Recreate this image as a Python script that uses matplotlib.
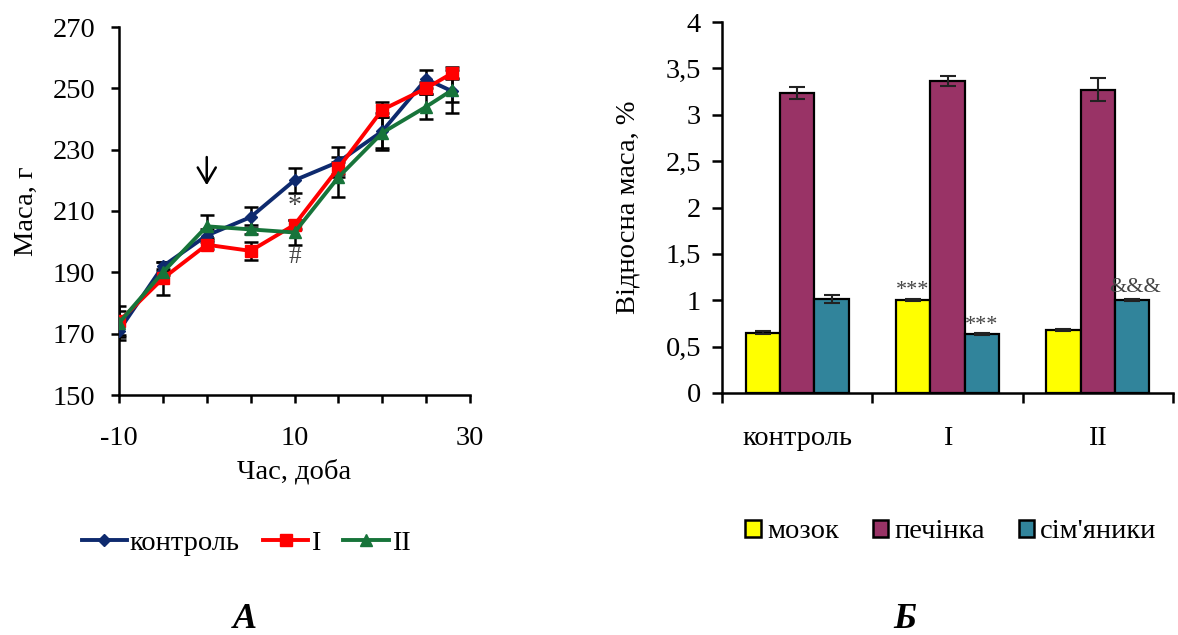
import matplotlib
matplotlib.use("Agg")
import matplotlib.pyplot as plt
import numpy as np
from matplotlib.lines import Line2D
from matplotlib.patches import Patch

plt.rcParams['font.family'] = ['Liberation Serif', 'DejaVu Serif']

# ---- Panel A data ----
days = [-10, -5, 0, 5, 10, 15, 20, 25, 28]
control = [171, 192, 202, 208, 220, 226, 236, 253, 249]
control_err = [3, 1.5, 2, 3.4, 4, 5, 6, 3, 7]
group1 = [174, 188, 199, 197, 205.5, 224, 243, 250, 255]
group1_err = [5, 5.4, 1.5, 3, 1.5, 2, 2.5, 2, 2]
group2 = [173.5, 190, 205, 204, 203, 221, 235.5, 244, 249.5]
group2_err = [4, 1, 3.7, 1.5, 4, 6.5, 5, 4, 4]
series_names_a = ['контроль', 'I', 'II']

# ---- Panel B data ----
categories_b = ['контроль', 'I', 'II']
organs = ['мозок', 'печінка', "сім'яники"]
brain = [0.65, 1.00, 0.68]
brain_err = [0.015, 0.01, 0.008]
liver = [3.23, 3.36, 3.27]
liver_err = [0.065, 0.055, 0.125]
testes = [1.01, 0.635, 1.00]
testes_err = [0.045, 0.01, 0.01]

fig = plt.figure(figsize=(11.78, 6.35), dpi=100)
FS = 20.5

# ================= Panel A =================
axA = fig.add_axes([119/1178, 1-395/635, (470-119)/1178, (395-27)/635])
colors_a = ['#0E2A6E', '#FF0000', '#17743A']
markers_a = ['D', 's', '^']
msizes = [6, 9, 9]
for vals, errs, c, m, ms, lab in zip([control, group1, group2],
                                      [control_err, group1_err, group2_err],
                                      colors_a, markers_a, msizes, series_names_a):
    axA.errorbar(days, vals, yerr=errs, color=c, marker=m, markersize=ms,
                 linewidth=2.8, ecolor='black', elinewidth=1.8, capsize=5,
                 capthick=1.8, label=lab, zorder=3)
axA.set_xlim(-10, 30)
axA.set_ylim(150, 270)
axA.set_xticks(np.arange(-10, 31, 5))
axA.set_xticklabels(['-10', '', '', '', '10', '', '', '', '30'])
axA.set_yticks(np.arange(150, 271, 20))
for s in ['top', 'right']:
    axA.spines[s].set_visible(False)
for s in ['left', 'bottom']:
    axA.spines[s].set_linewidth(1.8)
axA.tick_params(axis='both', direction='out', length=6, width=1.8, labelsize=FS)
axA.tick_params(axis='x', pad=16)
axA.tick_params(axis='y', pad=11)
axA.set_xlabel('Час, доба', fontsize=FS, labelpad=6)
axA.set_ylabel('Маса, г', fontsize=FS, labelpad=10)
axA.annotate('', xy=(0, 217.5), xytext=(0, 228.5),
             arrowprops=dict(arrowstyle='->,head_length=1.1,head_width=0.65', lw=1.8, color='black'))
axA.text(10, 211.5, '*', ha='center', va='center', fontsize=20, color='#444444')
axA.text(10, 195, '#', ha='center', va='center', fontsize=18, color='#444444')

handles_a = [Line2D([0], [0], color=c, marker=m, markersize=ms, linewidth=2.8)
             for c, m, ms in zip(colors_a, markers_a, msizes)]
fig.legend(handles_a, series_names_a, loc='center', bbox_to_anchor=(246/1178, 1-543/635),
           ncol=3, frameon=False, fontsize=FS, handlelength=1.6, handletextpad=0.1,
           columnspacing=0.8)

# ================= Panel B =================
axB = fig.add_axes([722/1178, 1-393/635, (1173-722)/1178, (393-22)/635])
colors_b = ['#FFFF00', '#993366', '#31849B']
x = np.arange(len(categories_b))
bw = 0.229
for i, (vals, errs, c, lab) in enumerate(zip([brain, liver, testes],
                                             [brain_err, liver_err, testes_err],
                                             colors_b, organs)):
    axB.bar(x + (i - 1) * bw, vals, width=bw, color=c, edgecolor='black', linewidth=1.6,
            yerr=errs, capsize=6, error_kw=dict(ecolor='#222222', elinewidth=1.5, capthick=1.5),
            label=lab, zorder=3)
axB.set_xlim(-0.5, 2.5)
axB.set_ylim(0, 4)
axB.set_yticks(np.arange(0, 4.01, 0.5))
axB.set_yticklabels(['0', '0,5', '1', '1,5', '2', '2,5', '3', '3,5', '4'])
axB.set_xticks(x)
axB.set_xticklabels(categories_b)
axB.set_xticks([-0.5, 0.5, 1.5, 2.5], minor=True)
axB.tick_params(axis='x', which='major', length=0, labelsize=FS, pad=24)
axB.tick_params(axis='x', which='minor', direction='out', length=7, width=1.8)
axB.tick_params(axis='y', direction='out', length=7, width=1.8, labelsize=FS, pad=8)
for s in ['top', 'right']:
    axB.spines[s].set_visible(False)
for s in ['left', 'bottom']:
    axB.spines[s].set_linewidth(1.8)
axB.set_ylabel('Відносна маса, %', fontsize=FS, labelpad=18)
axB.text(1 - bw, 1.1, '***', ha='center', va='center', fontsize=16, color='#444444')
axB.text(1 + bw, 0.73, '***', ha='center', va='center', fontsize=16, color='#444444')
axB.text(2 + bw + 0.02, 1.14, '&&&', ha='center', va='center', fontsize=16, color='#444444')

handles_b = [Patch(facecolor=c, edgecolor='black', linewidth=1.8) for c in colors_b]
fig.legend(handles_b, organs, loc='center', bbox_to_anchor=(951/1178, 1-532/635),
           ncol=3, frameon=False, fontsize=FS, handlelength=0.55, handleheight=0.55,
           handletextpad=0.2, columnspacing=1.2)

# panel letters
fig.text(245/1178, 1-620/635, 'А', ha='center', va='center', fontsize=26,
         fontweight='bold', fontstyle='italic')
fig.text(905/1178, 1-620/635, 'Б', ha='center', va='center', fontsize=26,
         fontweight='bold', fontstyle='italic')

fig.savefig('out.png', dpi=100)
